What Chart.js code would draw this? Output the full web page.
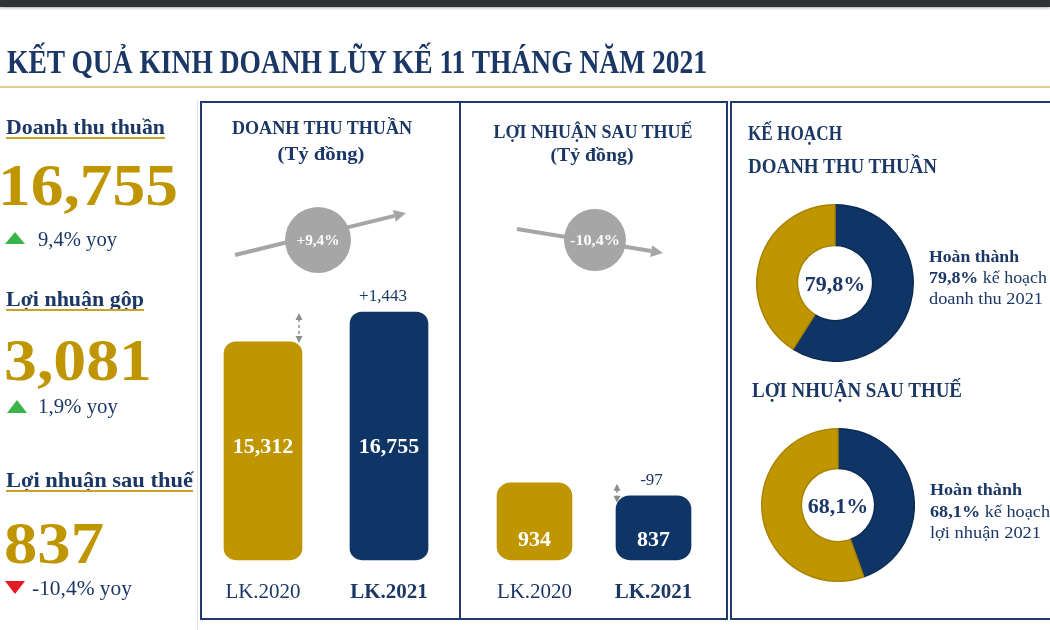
<!DOCTYPE html>
<html>
<head>
<meta charset="utf-8">
<script src="https://cdn.jsdelivr.net/npm/chart.js@4.4.1/dist/chart.umd.min.js"></script>
<style>
  html, body { margin: 0; padding: 0; }
  body { width: 1050px; height: 630px; overflow: hidden; position: relative; background: #fff; font-family: "Liberation Serif", serif; }
  .t { position: absolute; white-space: nowrap; line-height: 1; }
  .box { position: absolute; box-sizing: border-box; border: 2px solid #1f3a6b; }
  canvas { position: absolute; }
  #topbar { position: absolute; left: 0; top: 0; width: 1050px; height: 7px; background: #2f3336; box-shadow: 0 1px 3px rgba(0,0,0,.35); }
  svg { position: absolute; left: 0; top: 0; }
</style>
</head>
<body>
<div id="topbar"></div>
<div class="box" style="left:200px;top:101px;width:261px;height:519px"></div>
<div class="box" style="left:459px;top:101px;width:269px;height:519px"></div>
<div class="box" style="left:730px;top:101px;width:340px;height:519px"></div>
<div style="position:absolute;left:197px;top:100px;width:1px;height:530px;background:#e2e2e2"></div>
<div style="position:absolute;left:0;top:86px;width:1050px;height:2px;background:#e3cf8e"></div>

<canvas id="revChart" width="252" height="345" style="left:200px;top:280px"></canvas>
<canvas id="profitChart" width="238" height="345" style="left:475px;top:280px"></canvas>
<canvas id="revPlan" width="158" height="158" style="left:756px;top:204px"></canvas>
<canvas id="profitPlan" width="154" height="154" style="left:761px;top:428px"></canvas>
<svg id="arrows" width="1050" height="630"></svg>
<div id="layer"></div>

<script>
// ---- data ----
const barCategories = ['LK.2020', 'LK.2021'];
const revenueValues = [15312, 16755];
const profitValues = [934, 837];
const revenueChange = '+1,443';
const profitChange = '-97';
const revenueGrowth = '+9,4%';
const profitGrowth = '-10,4%';

const kpiNames = ['Doanh thu thuần', 'Lợi nhuận gộp', 'Lợi nhuận sau thuế'];
const kpiValues = ['16,755', '3,081', '837'];
const kpiYoy = ['9,4% yoy', '1,9% yoy', '-10,4% yoy'];
const kpiUp = [true, true, false];

const donutLabels = ['Hoàn thành', 'Còn lại'];
const revenuePlanSlices = [59, 41];
const profitPlanSlices = [44.5, 55.5];
const revenuePlanText = '79,8%';
const profitPlanText = '68,1%';

const NAVY = '#0f3566';
const GOLD = '#bf9500';
const TEXT = '#1b3766';
const FONT = '"Liberation Serif", serif';

// ---- plain text layer ----
const layer = document.getElementById('layer');
function put(html, x, cy, size, o = {}) {
  const el = document.createElement('div');
  el.className = 't';
  el.innerHTML = html;
  el.style.left = x + 'px';
  el.style.top = (cy - size * 0.5) + 'px';
  el.style.fontSize = size + 'px';
  el.style.color = o.color || TEXT;
  el.style.fontWeight = o.bold ? 'bold' : 'normal';
  if (o.w) el.dataset.w = o.w;
  if (o.center) el.dataset.center = '1';
  layer.appendChild(el);
  return el;
}
function line(x, y, w, h, color) {
  const d = document.createElement('div');
  d.style.cssText = `position:absolute;left:${x}px;top:${y}px;width:${w}px;height:${h}px;background:${color}`;
  layer.appendChild(d);
}

put('KẾT QUẢ KINH DOANH LŨY KẾ 11 THÁNG NĂM 2021', 7, 62, 34, {bold: true, w: 700});

// left KPI column
const kpiY = [[127, 185, 239], [299, 360, 406], [480, 543, 588]];
const headW = [159, 138, 187];
const numW = [180, 148, 100];
const yoyW = [79, 80, 100];
kpiNames.forEach((name, i) => {
  const [hy, ny, yy] = kpiY[i];
  put(name, 6, hy, 22, {bold: true, w: headW[i]});
  line(6, hy + 10, headW[i], 2, '#c9a227');
  put(kpiValues[i], i === 0 ? -2 : 4, ny, 60, {bold: true, color: GOLD, w: numW[i]});
  const tx = kpiUp[i] ? 38 : 32;
  put(kpiYoy[i], tx, yy, 20, {w: yoyW[i]});
});

// panel headings
put('DOANH THU THUẦN', 322, 127, 19, {bold: true, w: 180, center: true});
put('(Tỷ đồng)', 321, 153, 19, {bold: true, w: 87, center: true});
put('LỢI NHUẬN SAU THUẾ', 593, 131, 19, {bold: true, w: 199, center: true});
put('(Tỷ đồng)', 592, 154, 19, {bold: true, w: 83, center: true});
put('KẾ HOẠCH', 748, 133, 20, {bold: true, w: 94});
put('DOANH THU THUẦN', 748, 166, 20, {bold: true, w: 189});
put('LỢI NHUẬN SAU THUẾ', 752, 390, 20, {bold: true, w: 210});

put('Hoàn thành', 929, 256, 17, {bold: true, w: 90});
put(`<b>${revenuePlanText}</b> kế hoạch`, 929, 277, 17, {w: 118});
put('doanh thu 2021', 929, 298, 17, {w: 114});
put('Hoàn thành', 930, 489, 17, {bold: true, w: 92});
put(`<b>${profitPlanText}</b> kế hoạch`, 930, 511, 17, {w: 120});
put('lợi nhuận 2021', 930, 532, 17, {w: 111});

const gc1 = put(revenueGrowth, 318, 241, 14, {bold: true, color: '#fff', w: 43, center: true});
const gc2 = put(profitGrowth, 595, 241, 14, {bold: true, color: '#fff', w: 50, center: true});

// fit text widths to the picture
document.querySelectorAll('[data-w]').forEach(el => {
  const w = el.getBoundingClientRect().width;
  const s = +el.dataset.w / w;
  if (el.dataset.center) {
    el.style.transformOrigin = 'center';
    el.style.transform = `translateX(-50%) scaleX(${s})`;
  } else {
    el.style.transformOrigin = 'left';
    el.style.transform = `scaleX(${s})`;
  }
});

// ---- decorations: triangles, growth arrows ----
function arrowSvg(x1, y1, x2, y2) {
  const dx = x2 - x1, dy = y2 - y1, len = Math.hypot(dx, dy);
  const ux = dx / len, uy = dy / len;
  const bx = x2 - ux * 12, by = y2 - uy * 12;
  const px = -uy * 6, py = ux * 6;
  return `<line x1="${x1}" y1="${y1}" x2="${bx}" y2="${by}" stroke="#a6a6a6" stroke-width="4"/>` +
    `<polygon points="${x2},${y2} ${bx + px},${by + py} ${bx - px},${by - py}" fill="#a6a6a6"/>`;
}
document.getElementById('arrows').innerHTML =
  arrowSvg(235, 255, 406, 213) + `<circle cx="318" cy="240" r="33" fill="#a6a6a6"/>` +
  arrowSvg(517, 229, 663, 253) + `<circle cx="595" cy="240" r="31" fill="#a6a6a6"/>` +
  `<polygon points="5,244 25,244 15,232" fill="#3bb54a"/>` +
  `<polygon points="7,413 27,413 17,400" fill="#3bb54a"/>` +
  `<polygon points="5,581 25,581 15,594" fill="#e31b23"/>`;
layer.appendChild(gc1);
layer.appendChild(gc2);

// ---- chart.js ----
Chart.defaults.font.family = FONT;
Chart.defaults.color = TEXT;

const barText = {
  id: 'barText',
  afterDatasetsDraw(chart, args, o) {
    const {ctx, chartArea} = chart;
    const bars = chart.getDatasetMeta(0).data;
    const vals = chart.data.datasets[0].data;
    ctx.save();
    ctx.textAlign = 'center';
    ctx.textBaseline = 'middle';
    ctx.fillStyle = '#fff';
    ctx.font = `bold 22px ${FONT}`;
    bars.forEach((b, i) => ctx.fillText(vals[i].toLocaleString('en-US'), b.x, chartArea.bottom - o.inset));

    ctx.fillStyle = TEXT;
    ctx.font = `17px ${FONT}`;
    ctx.fillText(o.change, bars[1].x + o.changeDx, bars[1].y - 15);

    // small dashed double arrow between the two bar tops
    const ax = o.arrowLeft ? bars[1].x - bars[1].width / 2 + 1 : bars[0].x + bars[0].width / 2 - 3;
    const yTop = Math.min(bars[0].y, bars[1].y) + 1;
    const yBot = Math.max(bars[0].y, bars[1].y) + o.arrowExtra;
    ctx.strokeStyle = '#8d8d8d';
    ctx.fillStyle = '#8d8d8d';
    ctx.lineWidth = 1.5;
    ctx.setLineDash([3, 3]);
    ctx.beginPath();
    ctx.moveTo(ax, yTop + 6);
    ctx.lineTo(ax, yBot - 6);
    ctx.stroke();
    ctx.setLineDash([]);
    ctx.beginPath();
    ctx.moveTo(ax, yTop); ctx.lineTo(ax - 3.5, yTop + 7); ctx.lineTo(ax + 3.5, yTop + 7);
    ctx.closePath(); ctx.fill();
    ctx.beginPath();
    ctx.moveTo(ax, yBot); ctx.lineTo(ax - 3.5, yBot - 7); ctx.lineTo(ax + 3.5, yBot - 7);
    ctx.closePath(); ctx.fill();
    ctx.restore();
  }
};

function barChart(id, values, yMin, yMax, thickness, radius, o) {
  return new Chart(document.getElementById(id), {
    type: 'bar',
    data: {
      labels: barCategories,
      datasets: [{
        data: values,
        base: yMin,
        backgroundColor: [GOLD, NAVY],
        barThickness: thickness,
        borderRadius: {topLeft: radius, topRight: radius, bottomLeft: radius, bottomRight: radius},
        borderSkipped: false,
        clip: 4
      }]
    },
    options: {
      responsive: false,
      animation: false,
      layout: {padding: 0},
      plugins: {legend: {display: false}, tooltip: {enabled: false}, barText: o},
      scales: {
        y: {display: false, min: yMin, max: yMax},
        x: {
          grid: {display: false, drawTicks: false},
          border: {display: false},
          ticks: {
            padding: 20,
            color: TEXT,
            font: (c) => ({size: 21, family: FONT, weight: c.index === 1 ? 'bold' : 'normal'})
          }
        }
      }
    },
    plugins: [barText]
  });
}

barChart('revChart', revenueValues, 4800, 18297, 78, 12,
  {inset: 112, change: revenueChange, changeDx: -6, arrowLeft: false, arrowExtra: 1});
barChart('profitChart', profitValues, 360, 2447, 75, 14,
  {inset: 19, change: profitChange, changeDx: -2, arrowLeft: true, arrowExtra: 7});

const centerText = {
  id: 'centerText',
  afterDraw(chart, args, o) {
    const arc = chart.getDatasetMeta(0).data[0];
    const ctx = chart.ctx;
    ctx.save();
    ctx.fillStyle = TEXT;
    ctx.font = `bold 22px ${FONT}`;
    ctx.textAlign = 'center';
    ctx.textBaseline = 'middle';
    ctx.fillText(o.text, arc.x, arc.y + 2);
    ctx.restore();
  }
};

function donut(id, slices, text) {
  return new Chart(document.getElementById(id), {
    type: 'doughnut',
    data: {
      labels: donutLabels,
      datasets: [{
        data: slices,
        backgroundColor: [NAVY, GOLD],
        borderColor: ['#0b2b55', '#a88300'],
        borderWidth: 1.5
      }]
    },
    options: {
      responsive: false,
      animation: false,
      cutout: '48%',
      plugins: {legend: {display: false}, tooltip: {enabled: false}, centerText: {text}}
    },
    plugins: [centerText]
  });
}

donut('revPlan', revenuePlanSlices, revenuePlanText);
donut('profitPlan', profitPlanSlices, profitPlanText);
</script>
</body>
</html>
